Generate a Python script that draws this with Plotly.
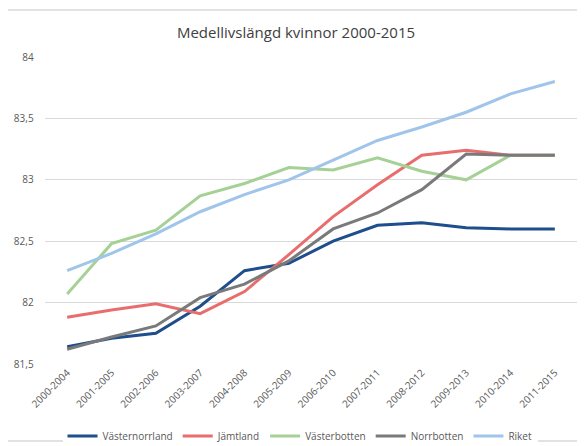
import plotly.graph_objects as go

periods = ["2000-2004", "2001-2005", "2002-2006", "2003-2007", "2004-2008", "2005-2009",
           "2006-2010", "2007-2011", "2008-2012", "2009-2013", "2010-2014", "2011-2015"]

vasternorrland = [81.64, 81.71, 81.75, 81.97, 82.26, 82.32, 82.50, 82.63, 82.65, 82.61, 82.60, 82.60]
jamtland = [81.88, 81.94, 81.99, 81.91, 82.09, 82.39, 82.70, 82.96, 83.20, 83.24, 83.20, 83.20]
vasterbotten = [82.07, 82.48, 82.59, 82.87, 82.97, 83.10, 83.08, 83.18, 83.07, 83.00, 83.20, 83.20]
norrbotten = [81.62, 81.72, 81.81, 82.04, 82.15, 82.34, 82.60, 82.73, 82.92, 83.21, 83.20, 83.20]
riket = [82.26, 82.40, 82.56, 82.74, 82.88, 83.00, 83.16, 83.32, 83.43, 83.55, 83.70, 83.80]

series = [
    ("Västernorrland", vasternorrland, "#1f4e8c"),
    ("Jämtland", jamtland, "#e86e6e"),
    ("Västerbotten", vasterbotten, "#a6d196"),
    ("Norrbotten", norrbotten, "#7a7a7a"),
    ("Riket", riket, "#9fc5ea"),
]

fig = go.Figure()
for name, vals, color in series:
    fig.add_trace(go.Scatter(x=periods, y=vals, name=name, mode="lines",
                             line=dict(color=color, width=3)))

# the page body has an 8px margin, so the figure is 8px smaller than the window
W, H = 577, 438
ml, mr, mt, mb = 37, 8, 49, 82
pw, ph = W - ml - mr, H - mt - mb

# light frame around the chart area (right edge falls outside the window)
fig.add_shape(type="rect", xref="paper", yref="paper",
              x0=(-3 - ml) / pw, x1=(600 - ml) / pw,
              y0=(H - mb - 433) / ph, y1=(H - mb - 2) / ph,
              line=dict(color="#d9d9d9", width=1.5), layer="below")

fig.update_layout(
    width=W, height=H,
    margin=dict(l=ml, r=mr, t=mt, b=mb),
    paper_bgcolor="white", plot_bgcolor="white",
    separators=", ",
    font=dict(family="Open Sans, Arial", color="#595959"),
    title=dict(text="Medellivslängd kvinnor 2000-2015", x=(296 - 8) / W, xanchor="center",
               y=1 - 25 / H, yanchor="middle",
               font=dict(size=15, color="#404040")),
    showlegend=True,
    legend=dict(orientation="h", xref="container", yref="container",
                x=292 / W, xanchor="center",
                y=(H - 428) / H, yanchor="middle",
                font=dict(size=10, color="#595959"), itemwidth=30),
    xaxis=dict(type="category", showgrid=False, showline=False, ticks="",
               tickangle=-45, tickfont=dict(size=10, color="#595959"),
               range=[-0.5, len(periods) - 0.5], automargin=False),
    yaxis=dict(range=[81.5, 84], dtick=0.5, showgrid=True, gridcolor="#d9d9d9",
               gridwidth=1, zeroline=False, showline=False, automargin=False,
               tickfont=dict(size=10, color="#595959"), ticksuffix="    "),
)

fig.write_html("out.html")
